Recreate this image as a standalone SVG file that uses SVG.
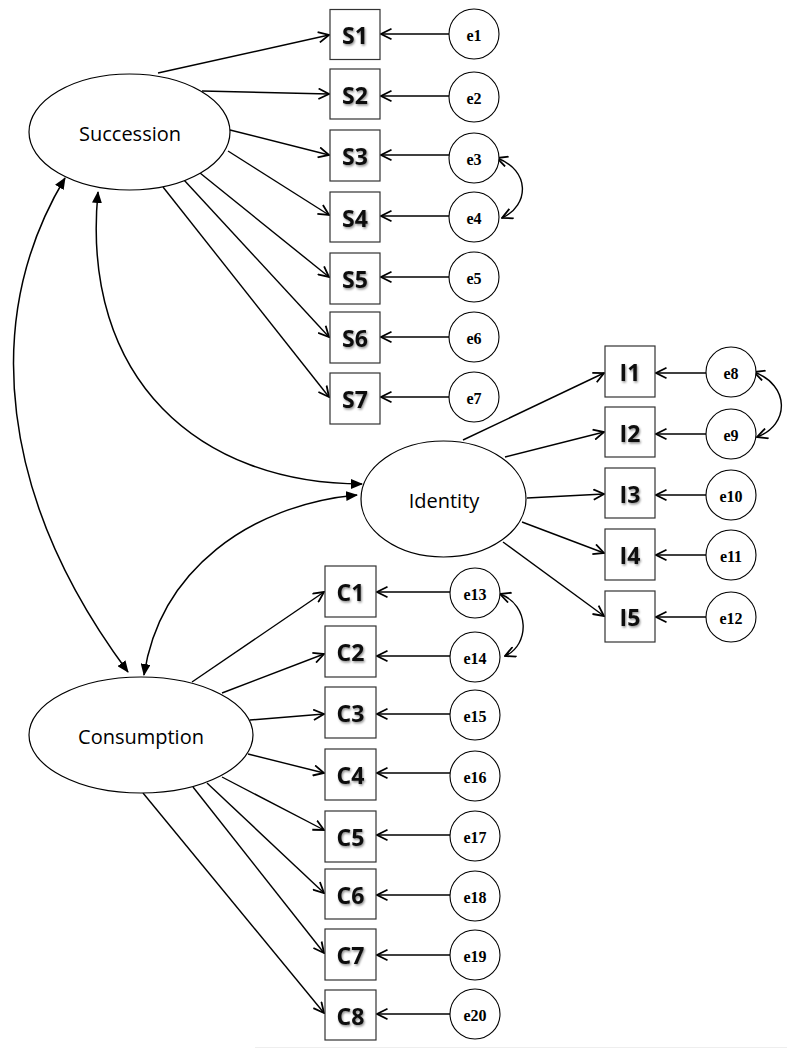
<svg xmlns="http://www.w3.org/2000/svg" width="787" height="1049" viewBox="0 0 787 1049">
<style>
.lat{fill:#fff;stroke:#000;stroke-width:1.2}
.box{fill:#fff;stroke:#333;stroke-width:1.2}
.err{fill:#fff;stroke:#000;stroke-width:1.1}
.lt{font-family:"Open Sans","Liberation Sans",sans-serif;font-size:20px;fill:#000;text-anchor:middle;dominant-baseline:central}
.bt{font-family:"Open Sans","Liberation Sans",sans-serif;font-weight:bold;font-size:23px;fill:#111;text-anchor:middle;dominant-baseline:central;filter:url(#sh)}
.et{font-family:"Liberation Serif","Times New Roman",serif;font-weight:bold;font-size:16px;fill:#000;text-anchor:middle;dominant-baseline:central}
.ld{fill:none;stroke:#000;stroke-width:1.4;marker-end:url(#open)}
.cv{fill:none;stroke:#000;stroke-width:1.4;marker-start:url(#open);marker-end:url(#open)}
.bc{fill:none;stroke:#000;stroke-width:1.5;marker-start:url(#tri);marker-end:url(#tri)}
</style>
<defs>
<filter id="sh" x="-20%" y="-20%" width="150%" height="150%"><feDropShadow dx="1" dy="1.5" stdDeviation="0.8" flood-color="#000" flood-opacity="0.45"/></filter>
<marker id="open" viewBox="0 0 12 12" refX="11" refY="6" markerWidth="12" markerHeight="12" markerUnits="userSpaceOnUse" orient="auto-start-reverse"><path d="M0.5,0.8 L11,6 L0.5,11.2" fill="none" stroke="#000" stroke-width="1.8"/></marker>
<marker id="tri" viewBox="0 0 12 10" refX="11" refY="5" markerWidth="12" markerHeight="10" markerUnits="userSpaceOnUse" orient="auto-start-reverse"><path d="M0,0 L12,5 L0,10 Z" fill="#000"/></marker>
</defs>
<rect width="787" height="1049" fill="#fff"/>
<line x1="255" y1="1047.5" x2="787" y2="1047.5" stroke="#eee" stroke-width="1"/>
<g id="connectors">
<path class="ld" d="M158,73 L329,35"/>
<path class="ld" d="M202,91 L329,94"/>
<path class="ld" d="M230,130 L329,155"/>
<path class="ld" d="M228,151 L329,215"/>
<path class="ld" d="M200,173 L329,277"/>
<path class="ld" d="M184,180 L329,337"/>
<path class="ld" d="M163,187 L329,397"/>
<path class="ld" d="M463,440 L604,373"/>
<path class="ld" d="M505,457 L604,432"/>
<path class="ld" d="M527,498 L604,494"/>
<path class="ld" d="M522,522 L604,553"/>
<path class="ld" d="M503,542 L604,616"/>
<path class="ld" d="M192,682 L324,592"/>
<path class="ld" d="M222,693 L324,654"/>
<path class="ld" d="M250,720 L324,714"/>
<path class="ld" d="M248,754 L324,773"/>
<path class="ld" d="M222,777 L324,830"/>
<path class="ld" d="M207,783 L324,893"/>
<path class="ld" d="M193,787 L324,953"/>
<path class="ld" d="M143,793 L324,1013"/>
<path class="ld" d="M449,34 L381,34"/>
<path class="ld" d="M449,96 L381,96"/>
<path class="ld" d="M449,155 L381,155"/>
<path class="ld" d="M449,216 L381,216"/>
<path class="ld" d="M449,277 L381,277"/>
<path class="ld" d="M449,337 L381,337"/>
<path class="ld" d="M449,397 L381,397"/>
<path class="ld" d="M706,373 L656,373"/>
<path class="ld" d="M706,434 L656,434"/>
<path class="ld" d="M706,495 L656,495"/>
<path class="ld" d="M706,555 L656,555"/>
<path class="ld" d="M706,617 L656,617"/>
<path class="ld" d="M450,592 L377,592"/>
<path class="ld" d="M450,656 L377,656"/>
<path class="ld" d="M450,714 L377,714"/>
<path class="ld" d="M450,773 L377,773"/>
<path class="ld" d="M450,835 L377,835"/>
<path class="ld" d="M450,895 L377,895"/>
<path class="ld" d="M450,955 L377,955"/>
<path class="ld" d="M450,1014 L377,1014"/>
<path class="cv" d="M497,158 C530,170 530,205 502,218"/>
<path class="cv" d="M754,372 C790,385 790,425 757,437"/>
<path class="cv" d="M500,594 C530,605 530,645 505,656"/>
<path class="bc" d="M65,178 C-20,320 0,500 128,672"/>
<path class="bc" d="M98,192 C80,380 200,484 362,484"/>
<path class="bc" d="M357,495 C250,505 160,570 144,675"/>
</g>
<g id="Succession"><ellipse class="lat" cx="129.5" cy="132" rx="100.5" ry="58"/><text class="lt" x="130" y="133">Succession</text></g>
<g id="Identity"><ellipse class="lat" cx="443.5" cy="499" rx="82.5" ry="58"/><text class="lt" x="444" y="500">Identity</text></g>
<g id="Consumption"><ellipse class="lat" cx="141" cy="735" rx="112" ry="58"/><text class="lt" x="141" y="736">Consumption</text></g>
<g id="S1"><rect class="box" x="330" y="9.5" width="50" height="50"/><text class="bt" x="355" y="35">S1</text></g>
<g id="S2"><rect class="box" x="330" y="69" width="50" height="50"/><text class="bt" x="355" y="95">S2</text></g>
<g id="S3"><rect class="box" x="330" y="130" width="50" height="51"/><text class="bt" x="355" y="156">S3</text></g>
<g id="S4"><rect class="box" x="330" y="192" width="50" height="50"/><text class="bt" x="355" y="218">S4</text></g>
<g id="S5"><rect class="box" x="330" y="253" width="50" height="51"/><text class="bt" x="355" y="279">S5</text></g>
<g id="S6"><rect class="box" x="330" y="312" width="50" height="51"/><text class="bt" x="355" y="338">S6</text></g>
<g id="S7"><rect class="box" x="330" y="373" width="50" height="51"/><text class="bt" x="355" y="399">S7</text></g>
<g id="I1"><rect class="box" x="605" y="346" width="50" height="51"/><text class="bt" x="630" y="372">I1</text></g>
<g id="I2"><rect class="box" x="605" y="407" width="50" height="50"/><text class="bt" x="630" y="433">I2</text></g>
<g id="I3"><rect class="box" x="605" y="468" width="50" height="50"/><text class="bt" x="630" y="494">I3</text></g>
<g id="I4"><rect class="box" x="605" y="529" width="50" height="51"/><text class="bt" x="630" y="555">I4</text></g>
<g id="I5"><rect class="box" x="605" y="591" width="50" height="51"/><text class="bt" x="630" y="617">I5</text></g>
<g id="C1"><rect class="box" x="325" y="566" width="51" height="51"/><text class="bt" x="350.5" y="592">C1</text></g>
<g id="C2"><rect class="box" x="325" y="626" width="51" height="51"/><text class="bt" x="350.5" y="652">C2</text></g>
<g id="C3"><rect class="box" x="325" y="687" width="51" height="51"/><text class="bt" x="350.5" y="713">C3</text></g>
<g id="C4"><rect class="box" x="325" y="749" width="51" height="51"/><text class="bt" x="350.5" y="775">C4</text></g>
<g id="C5"><rect class="box" x="325" y="811" width="51" height="51"/><text class="bt" x="350.5" y="837">C5</text></g>
<g id="C6"><rect class="box" x="325" y="869" width="51" height="50"/><text class="bt" x="350.5" y="895">C6</text></g>
<g id="C7"><rect class="box" x="325" y="929" width="51" height="51"/><text class="bt" x="350.5" y="955">C7</text></g>
<g id="C8"><rect class="box" x="325" y="990" width="51" height="50"/><text class="bt" x="350.5" y="1016">C8</text></g>
<g id="e1"><circle class="err" cx="474" cy="34" r="25"/><text class="et" x="474" y="35">e1</text></g>
<g id="e2"><circle class="err" cx="474" cy="97" r="25"/><text class="et" x="474" y="98">e2</text></g>
<g id="e3"><circle class="err" cx="474" cy="158" r="25"/><text class="et" x="474" y="159">e3</text></g>
<g id="e4"><circle class="err" cx="474" cy="217" r="25"/><text class="et" x="474" y="218">e4</text></g>
<g id="e5"><circle class="err" cx="474" cy="277" r="25"/><text class="et" x="474" y="278">e5</text></g>
<g id="e6"><circle class="err" cx="474" cy="337" r="25"/><text class="et" x="474" y="338">e6</text></g>
<g id="e7"><circle class="err" cx="474" cy="397" r="25"/><text class="et" x="474" y="398">e7</text></g>
<g id="e8"><circle class="err" cx="731" cy="372" r="25"/><text class="et" x="731" y="373">e8</text></g>
<g id="e9"><circle class="err" cx="731" cy="434" r="25"/><text class="et" x="731" y="435">e9</text></g>
<g id="e10"><circle class="err" cx="731" cy="495" r="25"/><text class="et" x="731" y="496">e10</text></g>
<g id="e11"><circle class="err" cx="731" cy="555" r="25"/><text class="et" x="731" y="556">e11</text></g>
<g id="e12"><circle class="err" cx="731" cy="617" r="25"/><text class="et" x="731" y="618">e12</text></g>
<g id="e13"><circle class="err" cx="475" cy="593" r="25"/><text class="et" x="475" y="594">e13</text></g>
<g id="e14"><circle class="err" cx="475" cy="657" r="25"/><text class="et" x="475" y="658">e14</text></g>
<g id="e15"><circle class="err" cx="475" cy="715" r="25"/><text class="et" x="475" y="716">e15</text></g>
<g id="e16"><circle class="err" cx="475" cy="776" r="25"/><text class="et" x="475" y="777">e16</text></g>
<g id="e17"><circle class="err" cx="475" cy="836" r="25"/><text class="et" x="475" y="837">e17</text></g>
<g id="e18"><circle class="err" cx="475" cy="896" r="25"/><text class="et" x="475" y="897">e18</text></g>
<g id="e19"><circle class="err" cx="475" cy="955" r="25"/><text class="et" x="475" y="956">e19</text></g>
<g id="e20"><circle class="err" cx="475" cy="1014" r="25"/><text class="et" x="475" y="1015">e20</text></g>
</svg>
